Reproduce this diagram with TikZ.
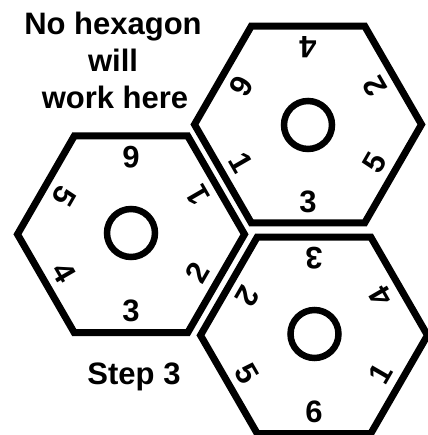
\documentclass[tikz,border=0pt]{standalone}
\usepackage{fontspec}
\setmainfont{Liberation Sans}
\usetikzlibrary{shapes.geometric}
\begin{document}
\begin{tikzpicture}[x=1pt,y=1pt,
  hexbox/.style={regular polygon, regular polygon sides=6, minimum size=227pt,
    inner sep=0pt, draw=black, line width=7pt, line join=miter},
  hole/.style={circle, minimum size=48pt, inner sep=0pt, draw=black, line width=6.5pt},
  digit/.style={font=\bfseries\fontsize{31}{37}\selectfont, inner sep=0pt},
  caption/.style={font=\bfseries\fontsize{31}{37}\selectfont, inner sep=0pt, anchor=base}]
\useasboundingbox (0,0) rectangle (427,435);
% hexagons
\node[hexbox] (L) at (131,200.7) {};
\node[hexbox] (T) at (308,310.5) {};
\node[hexbox] (B) at (314,99.7) {};
% holes
\node[hole] (Lc) at (131,202) {};
\node[hole] (Tc) at (308,310) {};
\node[hole] (Bc) at (314.5,101) {};
% edge numbers (top of each digit toward the centre)
\foreach \a/\d [count=\i] in {90/6,30/1,-30/2,-90/3,-150/4,150/5}
  \node[digit, rotate=\a+90] (L\i) at ([shift={(\a:77)}]L.center) {\d};
\foreach \a/\d [count=\i] in {90/4,30/2,-30/5,-90/3,-150/1,150/6}
  \node[digit, rotate=\a+90] (T\i) at ([shift={(\a:77)}]T.center) {\d};
\foreach \a/\d [count=\i] in {90/3,30/4,-30/1,-90/6,-150/5,150/2}
  \node[digit, rotate=\a+90] (B\i) at ([shift={(\a:77)}]B.center) {\d};
% texts
\node[caption] (t1) at (113,400) {No hexagon};
\node[caption] (t2) at (113,363.3) {will};
\node[caption] (t3) at (115,326.7) {work here};
\node[caption] (s3) at (134,50) {Step 3};
\end{tikzpicture}
\end{document}
